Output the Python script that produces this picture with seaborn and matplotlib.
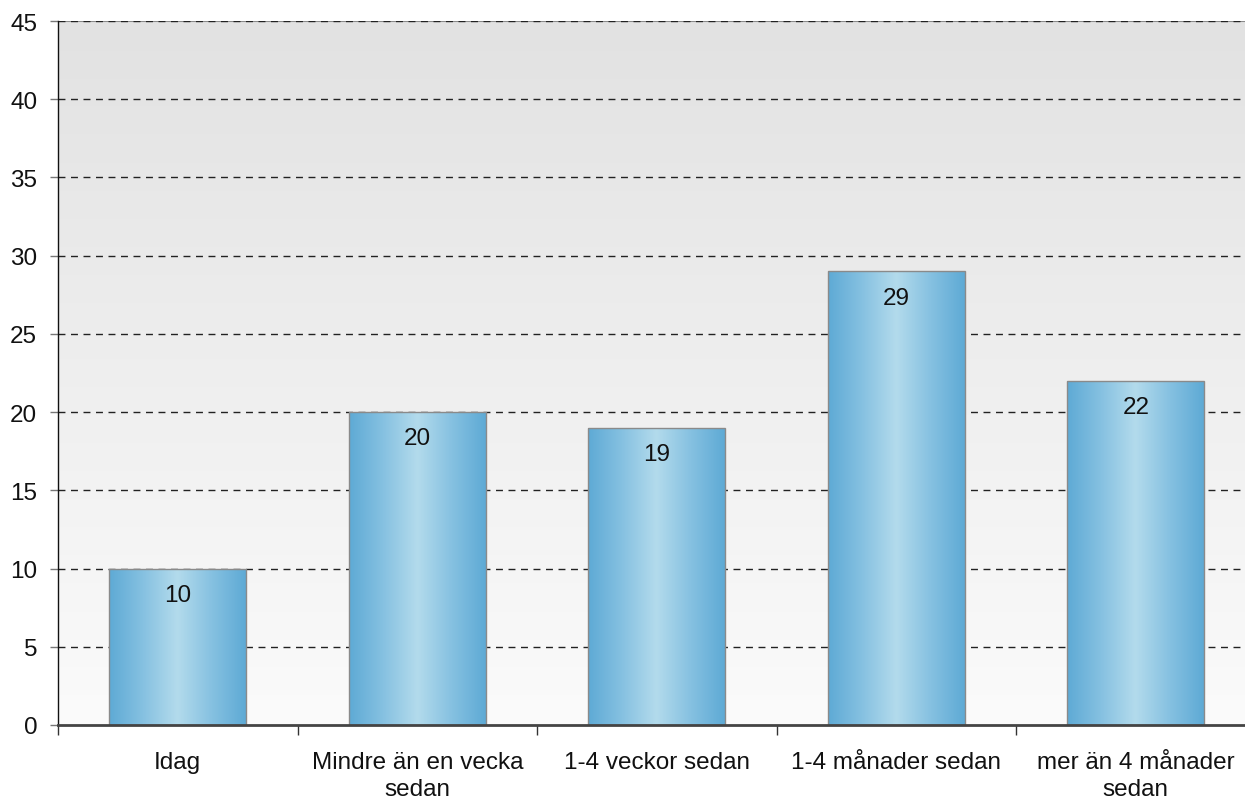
import numpy as np
import pandas as pd
import matplotlib
matplotlib.use("Agg")
import matplotlib.pyplot as plt
from matplotlib.colors import LinearSegmentedColormap
from matplotlib.ticker import FixedLocator
import seaborn as sns

categories = ["Idag", "Mindre än en vecka\nsedan", "1-4 veckor sedan",
              "1-4 månader sedan", "mer än 4 månader\nsedan"]
values = [10, 20, 19, 29, 22]
y_ticks = [0, 5, 10, 15, 20, 25, 30, 35, 40, 45]

sns.set_theme(style="white")
plt.rcParams["font.family"] = ["Liberation Sans", "DejaVu Sans"]

FS = 17.5

fig = plt.figure(figsize=(12.45, 8.03), dpi=100)
ax = fig.add_axes([58 / 1245, 77 / 803, 1197.5 / 1245, 704 / 803])

df = pd.DataFrame({"cat": categories, "val": values})
sns.barplot(data=df, x="cat", y="val", ax=ax, width=0.57,
            color="#7fbfe0", edgecolor="#8a8a8a", linewidth=1.0, zorder=3)

ax.set_xlim(-0.5, len(categories) - 0.5)
ax.set_ylim(0, 45)

# background: light grey at top fading to near white
bg = LinearSegmentedColormap.from_list("bg", ["#fbfbfb", "#e2e2e2"])
grad_v = np.linspace(0, 1, 256).reshape(-1, 1)
ax.imshow(grad_v, cmap=bg, aspect="auto", origin="lower",
          extent=(-0.5, len(categories) - 0.5, 0, 45), zorder=0)

# cylinder-style horizontal shading on the bars
bar_cmap = LinearSegmentedColormap.from_list(
    "bar", ["#5eaad5", "#86c1e1", "#b3dbec", "#86c1e1", "#5eaad5"])
grad_h = np.linspace(0, 1, 256).reshape(1, -1)
for patch in ax.patches:
    x0, y0 = patch.get_x(), patch.get_y()
    w, h = patch.get_width(), patch.get_height()
    im = ax.imshow(grad_h, cmap=bar_cmap, aspect="auto",
                   extent=(x0, x0 + w, y0, y0 + h), zorder=3.5)
    im.set_clip_path(patch)
    patch.set_facecolor("none")
    patch.set_zorder(4)

# value labels inside the top of each bar
for i, v in enumerate(values):
    ax.annotate(str(v), xy=(i, v), xytext=(0, -11), textcoords="offset points",
                ha="center", va="top", fontsize=FS, color="#111111", zorder=5)

# dashed grid; the top line sits on a solid grey edge
ax.axhline(45, color="#8a8a8a", linewidth=1.5, zorder=1.9)
for y in y_ticks[1:]:
    ax.axhline(y, color="#222222", linestyle=(0, (5, 4)), linewidth=1.0, zorder=2)

ax.yaxis.set_major_locator(FixedLocator(y_ticks))
ax.set_yticklabels([str(t) for t in y_ticks])
ax.tick_params(axis="y", which="major", left=True, length=6, width=1,
               color="#777777", pad=9, labelsize=FS, labelcolor="#111111")

ax.set_xticks(range(len(categories)))
ax.set_xticklabels(categories, linespacing=1.3)
ax.xaxis.set_minor_locator(FixedLocator(np.arange(-0.5, len(categories), 1.0)))
ax.tick_params(axis="x", which="major", bottom=False, length=0, pad=19,
               labelsize=FS, labelcolor="#111111")
ax.tick_params(axis="x", which="minor", bottom=True, length=7, width=1,
               color="#333333")

ax.set_xlabel("")
ax.set_ylabel("")

for s in ["top", "right"]:
    ax.spines[s].set_visible(False)
ax.spines["left"].set_color("#111111")
ax.spines["left"].set_linewidth(1.0)
ax.spines["bottom"].set_color("#444444")
ax.spines["bottom"].set_linewidth(2.0)
ax.spines["left"].set_zorder(6)
ax.spines["bottom"].set_zorder(6)

fig.savefig("out.png", dpi=100, facecolor="white")
